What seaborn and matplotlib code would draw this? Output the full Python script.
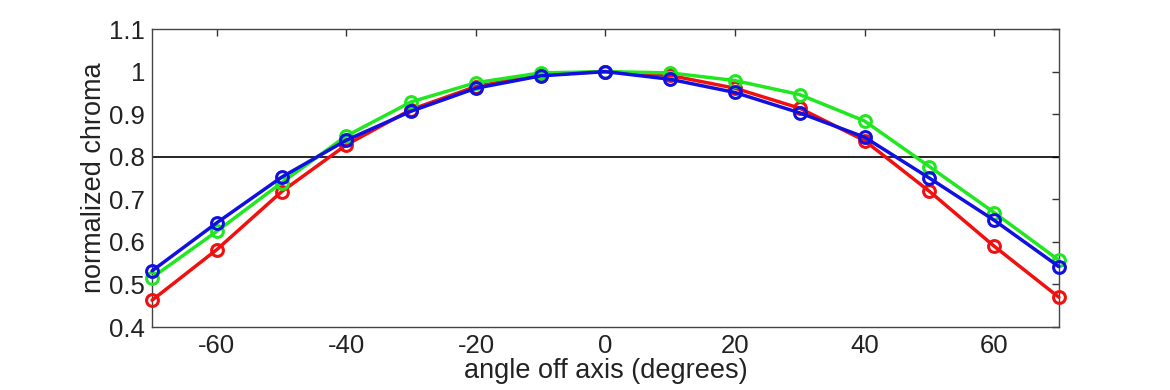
import matplotlib
matplotlib.use("Agg")
import matplotlib.pyplot as plt
import seaborn as sns
import pandas as pd

angles = [-70, -60, -50, -40, -30, -20, -10, 0, 10, 20, 30, 40, 50, 60, 70]
red = [0.463, 0.582, 0.718, 0.828, 0.911, 0.965, 0.993, 1.0, 0.991, 0.961, 0.914, 0.838, 0.719, 0.590, 0.470]
green = [0.516, 0.625, 0.739, 0.849, 0.929, 0.974, 0.997, 1.0, 0.997, 0.979, 0.946, 0.884, 0.777, 0.669, 0.557]
blue = [0.532, 0.645, 0.752, 0.839, 0.907, 0.961, 0.990, 1.0, 0.982, 0.951, 0.903, 0.846, 0.750, 0.651, 0.542]

series = {"red": red, "green": green, "blue": blue}
colors = {"red": "#f01010", "green": "#20e820", "blue": "#1010e0"}

x_ticks = [-60, -40, -20, 0, 20, 40, 60]
y_ticks = [0.4, 0.5, 0.6, 0.7, 0.8, 0.9, 1.0, 1.1]
y_labels = ["0.4", "0.5", "0.6", "0.7", "0.8", "0.9", "1", "1.1"]
threshold = 0.8

sns.set_style("white")
plt.rcParams["font.family"] = ["Liberation Sans", "DejaVu Sans"]

fig = plt.figure(figsize=(11.7, 3.9), dpi=100)
ax = fig.add_axes([0.130, 0.1615, 0.775, 0.764])

ax.axhline(threshold, color="black", lw=1.2, zorder=1)

for name, vals in series.items():
    df = pd.DataFrame({"angle": angles, "chroma": vals})
    c = colors[name]
    sns.lineplot(data=df, x="angle", y="chroma", ax=ax, color=c, lw=2.5,
                 marker="o", markersize=8.5, markerfacecolor="none",
                 markeredgecolor=c, markeredgewidth=2.2, zorder=3, clip_on=False)

ax.set_xlim(-70, 70)
ax.set_ylim(0.4, 1.1)
ax.set_xticks(x_ticks)
ax.set_xticklabels([str(t) for t in x_ticks])
ax.set_yticks(y_ticks)
ax.set_yticklabels(y_labels)
ax.tick_params(axis="both", direction="in", length=5, width=1, color="#333333",
               labelsize=18.5, top=True, right=True, labelcolor="#222222", pad=5)
for s in ax.spines.values():
    s.set_color("#444444")
    s.set_linewidth(1.0)
ax.set_xlabel("angle off axis (degrees)", fontsize=19.5, color="#222222", labelpad=0)
ax.set_ylabel("normalized chroma", fontsize=19.5, color="#222222", labelpad=2)

fig.savefig("out.png", dpi=100)
